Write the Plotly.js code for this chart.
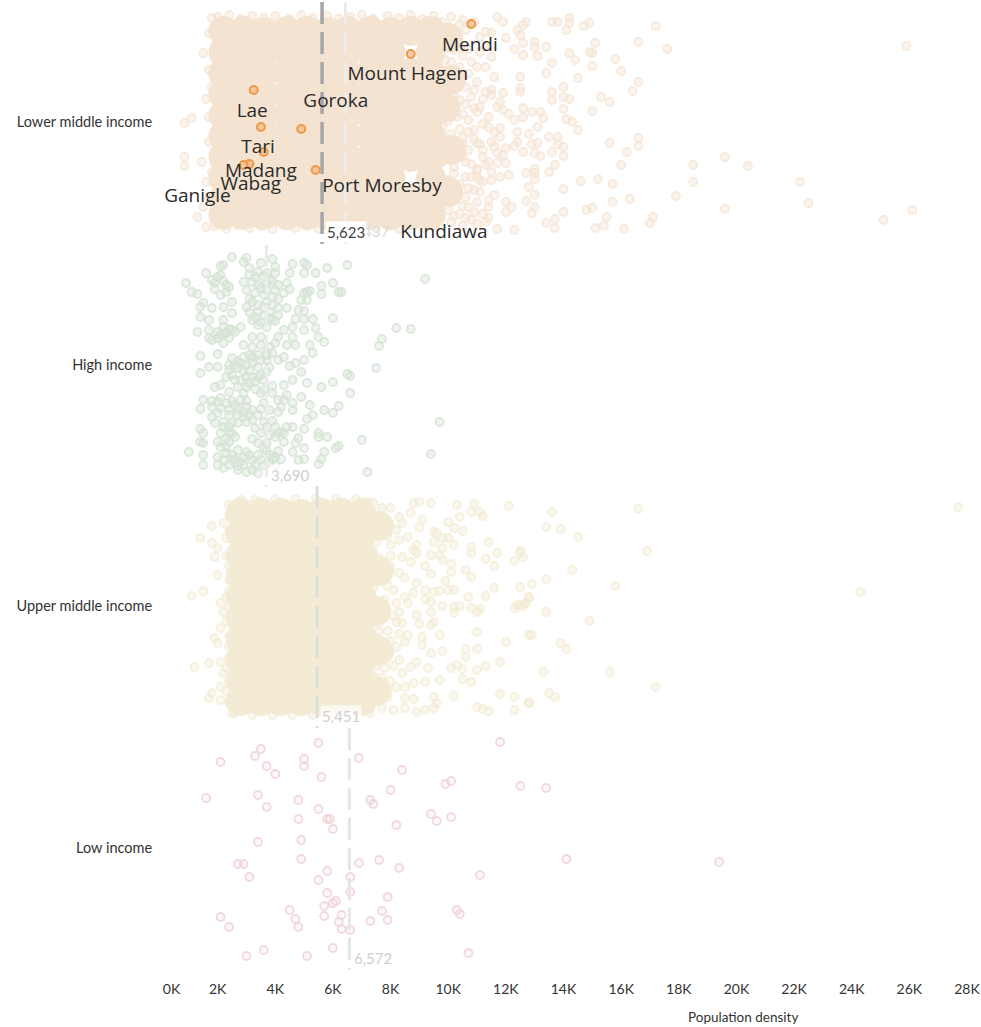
<!DOCTYPE html>
<html><head><meta charset="utf-8">
<script src="https://cdn.plot.ly/plotly-3.0.1.min.js"></script>
<style>html,body{margin:0;padding:0;background:#fff}</style></head>
<body><div id="chart" style="width:981px;height:1027px"></div>
<script>
// x = population density in thousands, y = vertical jitter inside the income band.
// in crowded zones they are eyeballed estimates.
// The "Core" lists stand in for the solid parts of the clouds, where single points
// cannot be told apart: they are hand-placed, larger discs, not the real observations.
const bands = ["Lower middle income","High income","Upper middle income","Low income"];
const bandCentres = [122,365,606,848];
const means = [5.623,3.69,5.451,6.572];
const meanLabels = ["5,623","3,690","5,451","6,572"];
const overallMean = 6.437, overallLabel = "6,437";
const tickValues = [0.4,2,4,6,8,10,12,14,16,18,20,22,24,26,28];
const tickLabels = ["0K","2K","4K","6K","8K","10K","12K","14K","16K","18K","20K","22K","24K","26K","28K"];
const cityNames = ["Mendi","Mount Hagen","Goroka","Lae","Tari","Madang","Wabag","Ganigle","Port Moresby","Kundiawa"];
const cityLabelX = [10.75,8.6,6.1,3.2,3.4,3.5,3.15,1.3,7.7,9.85];
const cityLabelY = [-76,-47,-20,-10,26,50,63,75,65,111];
const cityPoints = [10.8,-98,8.7,-68,3.25,-32,3.5,5,4.9,7,3.6,30,3.1,42,2.9,43,5.4,48];

const lowerMiddleCore = [
2.2,-91,2.9,-91,3.6,-90,4.4,-91,5.1,-91,5.8,-90,6.5,-91,7.3,-91,8.0,-90,8.7,-91,9.4,-91,
2.2,-70,2.9,-70,3.6,-71,4.4,-70,5.1,-70,5.8,-70,6.5,-71,7.3,-70,8.0,-70,9.4,-70,
2.2,-49,2.9,-49,3.6,-49,4.4,-50,5.1,-49,5.8,-49,6.5,-49,7.3,-49,8.0,-50,8.7,-49,9.4,-49,
2.2,-28,2.9,-28,3.6,-28,4.4,-28,5.1,-28,5.8,-29,6.5,-28,7.3,-28,8.0,-28,8.7,-28,9.4,-28,
2.2,-7,2.9,-7,3.6,-7,4.4,-7,5.1,-7,5.8,-7,6.5,-8,7.3,-7,8.0,-7,8.7,-7,9.4,-7,
2.2,14,2.9,14,3.6,14,4.4,14,5.1,15,5.8,14,6.5,14,7.3,14,8.0,14,8.7,14,9.4,14,
2.2,35,2.9,35,3.6,35,4.4,35,5.1,35,5.8,35,6.5,35,7.3,36,8.0,35,8.7,35,9.4,35,
2.2,56,2.9,56,3.6,56,4.4,56,5.1,56,5.8,56,6.5,56,7.3,56,8.0,56,9.4,56,
2.2,77,2.9,77,3.6,77,4.4,77,5.1,77,5.8,77,6.5,77,7.3,77,8.0,77,8.7,77,9.4,77,
2.2,93,2.9,93,3.6,93,4.4,93,5.1,93,5.8,93,6.5,93,7.3,93,8.0,93,8.7,93,9.4,93,
10.0,-84,10.1,-42,9.9,-14,10.1,28,10.0,70];

const lowerMiddlePoints = [
11.7,-105,11.9,-100,12.7,-100,12.6,-97,13.6,-100,13.8,-100,14.2,-104,14.2,-99,14.1,-92,14.7,-96,14.9,-99,17.2,-96,12.4,-92,12.5,-87,11.3,-90,11.5,-89,12.0,-84,12.6,-79,13.0,-80,13.0,-75,13.4,-75,15.1,-79,16.6,-80,17.6,-73,12.3,-73,12.6,-67,13.1,-66,13.6,-59,14.2,-69,14.4,-62,14.9,-70,15.0,-69,15.0,-56,15.8,-63,16.0,-51,13.4,-49,14.5,-44,12.5,-45,16.6,-40,16.4,-31,14.0,-35,13.6,-30,12.5,-34,12.5,-30,11.5,-32,11.5,-27,11.9,-29,13.6,-22,14.0,-25,14.2,-23,15.3,-25,15.6,-20,15.0,-11,14.0,-13,11.8,-20,11.2,-23,11.9,-12,12.6,-14,12.9,-10,13.2,-10,12.1,-8,12.6,-5,12.3,-2,13.3,-4,13.1,5,14.1,-3,14.3,0,14.5,8,11.8,6,11.6,10,12.4,10,12.8,12,13.5,15,13.8,15,16.6,16,16.6,24,15.6,21,11.0,21,11.5,20,11.8,15,12.4,20,12.3,24,12.9,22,13.1,21,13.8,22,14.0,25,13.6,30,14.0,34,12.0,26,11.9,33,12.6,30,13.0,31,13.2,34,11.7,31,16.2,30,11.3,43,11.0,47,11.7,41,12.0,41,12.1,53,13.7,43,13.0,47,13.5,50,12.7,51,13.0,51,13.0,57,16.0,43,18.5,43,18.5,60,19.6,35,20.4,44,22.2,60,22.5,81,25.9,-76,26.1,88,25.1,98,19.6,87,17.9,74,16.3,77,15.7,80,15.7,62,15.2,57,14.6,59,14.0,67,12.8,65,13.0,73,11.5,58,11.1,58,12.7,79,13.0,85,12.9,91,12.0,80,12.2,85,12.0,90,14.0,90,15.0,86,14.8,88,13.7,97,13.4,101,13.7,106,15.1,106,15.4,104,15.5,95,16.1,107,17.1,95,17.0,101,12.3,108,11.7,107,11.4,78,11.6,73,11.4,85,11.4,96,
9.8,-100,10.1,-105,10.4,-98,10.0,-90,10.3,-84,10.6,-92,9.8,-78,10.2,-72,10.5,-66,9.9,-62,10.4,-55,10.8,-60,11.1,-70,10.0,-45,10.4,-40,10.7,-48,9.8,-30,10.2,-25,10.6,-18,10.9,-32,11.1,-15,9.9,-12,10.3,-5,10.7,-2,11.0,-10,9.8,5,10.1,12,10.5,15,10.9,8,11.2,2,9.9,25,10.3,30,10.7,28,11.1,22,9.8,40,10.2,45,10.6,40,11.0,48,10.0,58,10.4,62,10.8,55,11.2,60,9.8,72,10.2,78,10.6,75,10.9,68,10.0,88,10.4,92,10.7,85,11.0,80,10.1,100,10.5,104,10.8,98,11.2,92,9.7,-40,9.7,15,9.7,60,9.7,90,11.1,-85,10.9,-100,11.3,-55,11.3,-30,11.4,40,11.4,5,
10.0,-95,10.5,-102,9.9,-84,10.4,-75,10.1,-60,10.7,-73,11.0,-55,10.2,-50,10.6,-35,10.0,-33,10.4,-22,10.8,-25,11.0,-40,10.1,-15,10.5,-8,10.9,-14,10.0,-1,10.4,7,10.7,10,10.1,20,10.5,22,10.9,17,11.2,28,10.1,35,10.5,35,10.8,42,11.2,35,10.2,52,10.6,55,11.0,55,10.3,68,10.7,66,11.1,70,10.1,80,10.5,84,10.9,90,10.2,94,10.6,96,11.0,102,11.3,100,11.3,-75,11.5,-65,11.6,-45,11.7,-15,11.4,-5,11.5,50,11.6,25,11.8,55,
1.7,-89,1.5,-69,1.6,-23,0.85,1,1.1,-4,0.85,35,0.85,44,1.45,40,1.3,95,1.7,-52,1.7,-5,1.7,20,1.6,60,1.7,75,1.6,105,1.8,-104,1.5,85,1.8,50,1.8,-35,
2.0,-105,2.4,-107,2.8,-103,3.2,-106,3.6,-104,4.0,-106,4.5,-103,4.9,-107,5.3,-104,5.8,-106,6.2,-103,6.6,-105,7.0,-107,7.4,-103,7.9,-106,8.3,-104,8.7,-107,9.1,-103,9.5,-106,
1.9,104,2.3,107,2.7,103,3.1,106,3.5,104,3.9,107,4.3,103,4.7,106,5.1,104,5.5,107,5.9,103,6.3,106,6.7,107,7.1,103,7.5,106,7.9,104,8.3,107,8.7,103,9.1,106,9.5,104];

const highPoints = [
6.5,-100,5.8,-97,5.4,-92,5.1,-100,5.0,-102,4.6,-101,5.0,-92,4.5,-92,4.4,-82,4.5,-76,5.1,-73,5.2,-74,5.0,-72,5.6,-79,5.6,-71,6.0,-82,6.2,-73,6.3,-73,9.2,-86,5.1,-65,4.9,-65,6.0,-47,5.3,-46,4.8,-55,5.0,-54,4.7,-46,5.0,-46,5.0,-35,5.4,-37,5.5,-28,5.7,-23,5.3,-12,5.2,-20,4.6,-28,4.7,-20,8.2,-37,8.7,-36,7.7,-26,7.6,-19,7.5,3,5.0,-5,4.7,-2,4.5,1,4.9,7,5.1,18,4.6,15,5.6,22,6.0,17,6.5,9,6.6,11,6.6,28,4.9,32,5.2,40,6.2,41,5.7,45,6.0,48,5.3,50,5.1,54,5.0,64,9.7,57,5.5,68,5.5,72,5.8,72,7.0,75,6.1,83,6.2,81,5.7,87,5.6,94,5.5,99,5.0,83,5.0,94,4.8,95,9.4,89,7.2,107,4.8,73,4.7,78,4.6,87,4.6,62,4.3,77,4.2,67,
0.9,-82,1.1,-73,1.3,-71,1.6,-92,2.1,-99,2.5,-108,2.9,-103,3.0,-107,3.5,-102,3.9,-106,4.0,-98,1.3,-33,1.0,87,1.5,90,1.5,100,1.4,77,1.4,44,1.4,8,1.4,-9,2.0,-11,1.5,35,1.4,64,1.5,68,1.5,78,2.0,100,2.0,92,
3.1,-97,2.2,-100,1.8,-85,1.9,-82,2.1,-90,2.4,-78,2.1,-70,1.5,-62,1.4,-58,1.8,-57,2.2,-58,2.5,-63,2.5,-52,2.2,-45,1.4,-48,1.7,-45,1.7,-35,1.7,-27,1.8,-25,2.1,-30,2.3,-32,2.5,-35,2.8,-38,2.2,-22,3.2,-28,3.5,-28,2.9,-20,3.2,-18,3.5,-20,3.8,-18,4.0,-22,4.1,-28,4.3,-35,4.6,-38,4.4,-20,4.3,-8,4.1,-5,3.7,-12,3.7,-5,3.1,-10,2.9,-8,2.5,-7,2.4,0,2.0,2,1.7,2,2.7,3,2.5,10,3.2,-2,3.4,2,3.7,7,3.2,12,2.8,15,2.7,22,2.1,20,1.9,22,2.4,27,3.1,18,3.3,17,3.5,28,3.6,25,3.9,21,4.3,20,4.4,30,4.6,38,4.6,45,2.1,33,1.8,36,1.8,42,2.1,43,2.4,45,2.6,40,2.8,35,3.0,42,3.2,45,3.6,38,3.8,45,4.1,47,1.8,52,1.9,58,2.2,57,2.5,58,2.7,58,3.0,57,3.3,63,3.7,62,4.0,62,4.3,68,2.1,68,2.4,68,2.0,77,2.4,77,3.2,74,3.4,78,3.6,82,3.8,70,4.1,86,3.8,90,2.7,85,3.0,87,2.3,88,2.2,95,2.5,95,2.8,97,3.2,95,3.5,95,3.8,98,4.0,100,3.0,107,2.2,103,3.4,108,3.7,-92,3.4,-93,4.0,-92,3.2,-83,2.9,-83,3.0,-75,3.5,-77,3.7,-75,4.0,-75,4.3,-72,3.2,-63,3.7,-63,3.1,-53,3.4,-53,3.8,-53,4.1,-57,4.4,-57,3.2,-45,3.5,-43,3.9,-45,4.1,-50,
2.0,-88,2.2,-84,2.3,-80,1.9,-76,2.3,-73,3.1,-90,3.3,-88,3.6,-89,3.8,-86,3.9,-84,3.4,-80,3.7,-81,4.1,-80,3.3,-72,3.6,-70,3.9,-68,4.1,-66,3.1,-66,3.4,-60,3.6,-58,3.9,-60,3.0,-58,3.3,-48,3.6,-49,3.8,-47,4.0,-44,3.4,-40,3.7,-38,2.2,-38,2.4,-36,2.0,-33,2.2,-31,2.6,-33,2.0,-27,2.4,-27,3.2,-8,3.4,-10,3.5,-5,2.7,-4,2.6,0,2.8,-2,3.0,0,2.4,5,2.9,6,3.1,6,3.5,10,2.6,15,3.0,12,3.4,12,3.6,15,3.7,-10,3.9,-12,3.8,2,2.3,12,3.0,22,3.3,24,2.9,28,3.9,28,4.1,35,4.2,42,4.3,35,2.0,37,2.3,38,2.5,36,2.7,44,2.9,47,3.1,50,2.4,50,2.7,50,2.0,48,3.4,50,3.5,44,3.0,36,2.9,52,3.2,55,2.2,62,2.4,62,2.3,73,2.6,72,2.1,82,2.3,82,2.5,68,3.6,57,3.9,56,4.1,68,4.4,62,3.7,78,4.0,72,3.5,68,2.5,90,2.6,94,2.9,92,3.1,90,3.4,90,3.7,86,4.0,92,4.2,94,2.4,100,2.7,101,2.9,100,3.3,100,3.6,100,3.9,94,3.2,105,2.7,105];

const upperMiddleCore = [
2.8,-93,3.5,-93,4.2,-93,4.9,-92,5.6,-93,6.3,-93,7.0,-93,
2.8,-72,3.5,-72,4.2,-72,4.9,-72,5.6,-72,6.3,-72,7.0,-72,
2.8,-51,3.5,-51,4.2,-51,4.9,-51,5.6,-51,6.3,-51,7.0,-51,
2.8,-30,3.5,-30,4.2,-30,4.9,-30,5.6,-30,6.3,-30,7.0,-30,
2.8,-9,3.5,-9,4.2,-9,4.9,-9,5.6,-9,6.3,-9,7.0,-9,
2.8,12,3.5,12,4.2,12,4.9,12,5.6,12,6.3,12,7.0,12,
2.8,33,3.5,33,4.2,33,4.9,33,5.6,33,6.3,33,7.0,33,
2.8,54,3.5,54,4.2,54,4.9,54,5.6,54,6.3,54,7.0,54,
2.8,75,3.5,75,4.2,75,4.9,75,5.6,75,6.3,75,7.0,75,
2.8,95,3.5,95,4.2,95,4.9,95,5.6,95,6.3,95,7.0,95,
7.6,-80,7.6,-35,7.5,5,7.6,45,7.5,85];

const upperMiddlePoints = [
7.4,-103,7.7,-98,8.0,-98,8.8,-103,9.0,-104,9.4,-103,10.3,-101,10.9,-102,11.1,-94,11.2,-90,12.1,-100,10.4,-89,10.8,-94,9.1,-86,9.0,-79,10.0,-84,10.2,-78,10.5,-75,9.5,-74,9.6,-73,9.8,-68,10.0,-68,10.2,-61,9.5,-64,10.8,-59,10.8,-53,11.4,-64,11.7,-53,11.3,-47,11.6,-40,12.3,-45,12.5,-55,12.6,-49,9.8,-58,9.7,-51,9.8,-46,9.4,-51,8.9,-61,8.9,-53,8.4,-83,8.2,-76,7.8,-79,7.5,-76,8.7,-93,8.3,-89,8.0,-61,8.3,-66,8.6,-69,8.8,-56,8.0,-39,8.4,-49,8.7,-44,9.2,-40,10.1,-42,10.1,-34,9.4,-32,8.3,-33,8.5,-28,7.7,-33,8.9,-23,9.9,-25,10.6,-36,10.8,-29,11.6,-18,11.3,-10,10.7,-9,12.5,-19,10.2,-16,10.0,-16,9.7,-15,9.5,-14,9.2,-16,8.8,-13,8.5,-9,8.1,-16,7.8,-6,8.2,-3,8.6,-3,9.2,-7,9.4,-4,9.8,0,10.2,1,10.4,0,10.2,7,10.8,2,11.1,3,11.0,6,12.3,2,12.4,-1,12.6,0,12.8,-8,8.3,6,8.9,9,9.4,6,8.2,16,8.4,17,9.0,18,9.4,19,9.5,16,7.6,17,7.6,26,8.3,28,8.6,29,9.1,31,9.7,29,9.1,39,11.0,26,12.0,36,12.8,29,7.8,41,8.2,41,8.5,36,9.4,47,9.8,45,10.6,43,10.6,51,11.0,43,7.7,51,8.3,54,8.9,56,8.7,61,9.3,62,7.8,62,10.3,59,10.1,62,10.5,63,11.0,64,11.3,60,11.8,56,8.4,67,7.7,72,8.2,81,8.8,77,9.2,76,9.7,74,10.5,73,10.8,76,8.5,81,7.9,91,8.5,92,8.8,93,9.5,91,9.6,97,10.2,90,11.8,88,12.3,91,12.8,97,11.0,101,11.2,103,11.4,105,12.3,104,7.7,102,8.1,104,8.5,102,8.9,106,9.2,104,9.5,102,
1.8,-80,1.4,-68,2.3,-68,1.8,-63,2.0,-58,1.9,-49,2.0,-31,2.4,-26,1.1,-10,1.5,-15,1.2,61,1.7,57,2.1,56,1.9,32,2.0,37,2.1,22,1.8,87,1.7,92,2.1,81,2.1,-3,2.2,6,2.2,-83,2.4,-101,2.4,-91,2.5,107,2.3,-9,2.4,51,2.2,67,2.1,94,2.6,107,2.8,-106,3.3,-106,4.0,-107,4.7,-107,5.4,-107,6.1,-107,6.8,-107,7.2,-104,3.2,109,3.9,109,4.6,109,5.3,109,6.0,109,6.7,109,7.3,107,
7.4,-90,7.5,-82,7.3,-70,7.5,-64,7.4,-55,7.6,-48,7.3,-40,7.5,-27,7.4,-18,7.3,-8,7.5,0,7.4,10,7.3,22,7.5,32,7.4,40,7.3,50,7.5,60,7.4,70,7.3,80,7.5,85,7.4,95,7.2,104,7.8,-88,7.9,-70,8.0,-50,7.9,-20,8.1,10,7.9,25,8.0,35,8.1,60,8.0,75,7.9,84,2.4,-75,2.3,-50,2.4,-40,2.4,-15,2.4,0,2.3,15,2.4,30,2.4,40,2.3,62,2.4,75,2.3,85,2.4,97,
13.6,-94,13.4,-79,13.9,-77,14.5,-69,16.6,-97,16.9,-55,14.3,-36,13.4,-27,12.9,-22,15.8,-20,12.8,-9,12.7,-3,12.5,-1,13.4,6,14.9,15,12.9,29,13.9,37,14.1,43,13.3,66,15.6,66,17.2,81,13.5,87,13.7,91,12.8,97,12.5,-53,24.3,-14,27.7,-99];

const lowPoints = [
5.5,-105,3.5,-99,3.3,-92,2.1,-86,5.0,-89,5.0,-82,3.7,-82,4.0,-74,5.6,-71,6.9,-90,8.4,-78,11.8,-106,8.0,-58,10.1,-67,9.9,-64,12.5,-62,13.4,-60,1.6,-50,3.4,-53,4.8,-48,3.7,-41,5.5,-39,7.3,-48,7.4,-44,4.8,-29,5.8,-29,5.9,-29,6.0,-19,9.4,-34,9.6,-27,10.1,-31,8.2,-23,4.9,-8,3.4,-6,4.9,11,2.7,16,2.9,16,3.1,29,5.8,23,5.5,32,6.6,29,6.9,15,7.6,12,8.3,20,11.1,27,14.1,11,5.8,45,6.6,44,7.9,49,6.1,53,6.0,55,5.7,58,4.5,62,5.7,68,6.3,67,7.7,63,10.3,62,10.4,66,2.1,69,4.7,71,6.2,74,7.3,73,7.9,72,2.4,79,4.8,79,6.3,81,6.6,82,6.0,100,3.6,102,3.0,108,5.1,108,10.7,105,19.4,14];

const solidColours = ["#f5e3d1","#d6e4d5","#f3ebd4","#f0d3d8"];
const fillColours = ["rgba(245,227,209,.5)","rgba(214,228,213,.45)","rgba(243,235,212,.5)","rgba(240,211,216,.2)"];
const ringOpacity = [0.72,0.85,0.75,0.85];
const pick = (a,o) => a.filter((_,i)=>i%2===o);
const yOf = (a,band) => pick(a,1).map(v=>v+bandCentres[band]);

function rings(points,band){return {type:"scatter",mode:"markers",x:pick(points,0),y:yOf(points,band),hoverinfo:"skip",
  marker:{size:8,opacity:ringOpacity[band],color:fillColours[band],line:{color:solidColours[band],width:1.8}}};}
function core(points,band){return {type:"scatter",mode:"markers",x:pick(points,0),y:yOf(points,band),hoverinfo:"skip",
  marker:{size:30,color:solidColours[band],line:{width:0}}};}
function meanLine(v,band,colour,width){const c=bandCentres[band];return {type:"scatter",mode:"lines",x:[v,v],y:[c-120,c+122],hoverinfo:"skip",
  line:{color:colour,width:width,dash:"22px,8px"}};}

const traces = [
  core(lowerMiddleCore,0), rings(lowerMiddlePoints,0), rings(highPoints,1),
  core(upperMiddleCore,2), rings(upperMiddlePoints,2), rings(lowPoints,3),
  {type:"scatter",mode:"markers",x:pick(cityPoints,0),y:yOf(cityPoints,0),hoverinfo:"skip",
   marker:{size:8,color:"rgba(245,190,140,.8)",line:{color:"#ec9a4a",width:2}}},
  meanLine(overallMean,0,"#ececec",3),
  meanLine(means[1],1,"#ececec",3), meanLine(means[2],2,"#dedede",3), meanLine(means[3],3,"#e6e6e6",3),
  meanLine(means[0],0,"#a6a6a6",3.5),
  {type:"scatter",mode:"text",x:cityLabelX,y:cityLabelY.map(v=>v+bandCentres[0]),text:cityNames,hoverinfo:"skip",
   textposition:"middle center",textfont:{family:"Open Sans, sans-serif",size:19,color:"#2b2b2b"}}
];

const note = (txt,v,band,colour,off,bg) => ({x:v,y:bandCentres[band]+off,xref:"x",yref:"y",text:txt,showarrow:false,xanchor:"left",xshift:3,
  font:{family:"Lato, sans-serif",size:15,color:colour},bgcolor:bg,borderpad:1});
const annotations = [
  note(overallLabel,overallMean,0,"#dcdcdc",109,"rgba(255,255,255,0)"),
  note(meanLabels[0],means[0],0,"#444444",110,"#ffffff"),
  note(meanLabels[1],means[1],1,"#cfcfcf",110,"rgba(255,255,255,.7)"),
  note(meanLabels[2],means[2],2,"#cfcfcf",110,"rgba(255,255,255,.7)"),
  note(meanLabels[3],means[3],3,"#cfcfcf",110,"rgba(255,255,255,.7)"),
  {x:20.23,y:-0.0485,xref:"x",yref:"paper",yanchor:"middle",text:"Population density",showarrow:false,font:{family:"Lato, sans-serif",size:13.5,color:"#333"}}
];

Plotly.newPlot("chart",traces,{
  width:981,height:1027,showlegend:false,paper_bgcolor:"#fff",plot_bgcolor:"rgba(0,0,0,0)",
  margin:{l:160.4,r:14,t:0,b:57,pad:0},
  xaxis:{range:[0,28],tickmode:"array",tickvals:tickValues,ticktext:tickLabels,showgrid:false,zeroline:false,showline:false,
    ticks:"outside",ticklen:6,tickcolor:"rgba(0,0,0,0)",tickfont:{family:"Lato, sans-serif",size:14,color:"#333"}},
  yaxis:{range:[970,0],tickmode:"array",tickvals:bandCentres,ticktext:bands,showgrid:false,zeroline:false,showline:false,
    ticks:"outside",ticklen:4,tickcolor:"rgba(0,0,0,0)",tickfont:{family:"Lato, sans-serif",size:14.5,color:"#333"}},
  annotations:annotations
},{displayModeBar:false,staticPlot:true});
</script></body></html>
